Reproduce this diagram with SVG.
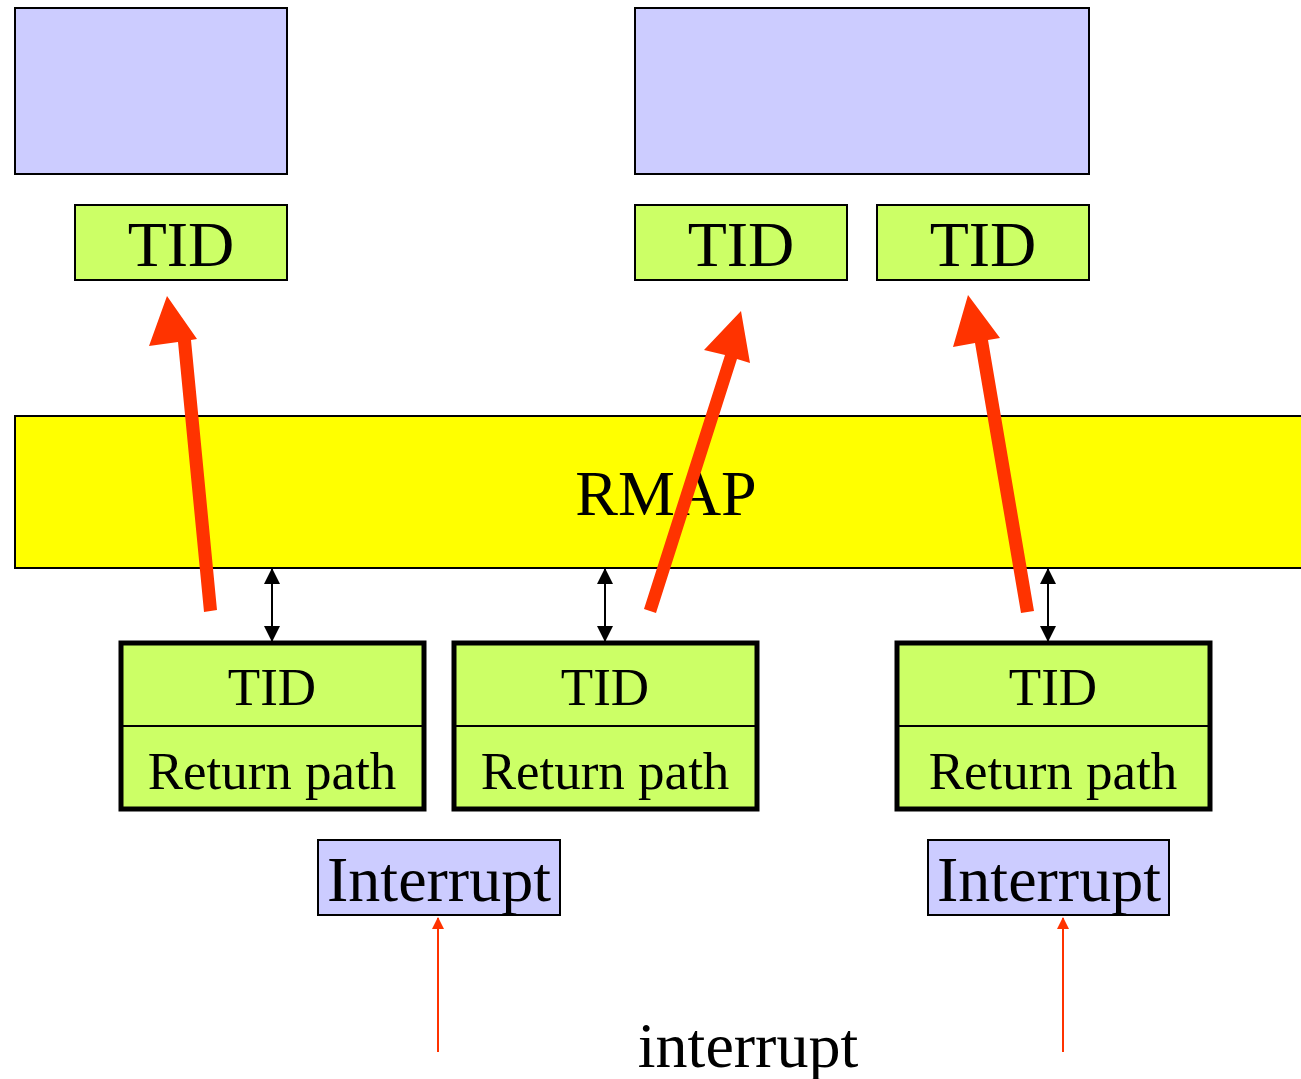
<svg xmlns="http://www.w3.org/2000/svg" width="1301" height="1079" viewBox="0 0 1301 1079">
<defs>
<style>
.blue{fill:#CCCCFF;stroke:#000;stroke-width:2}
.green{fill:#CCFF66;stroke:#000;stroke-width:2}
.rp{fill:#CCFF66;stroke:#000;stroke-width:5}
.rmap{fill:#FFFF00;stroke:#000;stroke-width:2}
text{font-family:"Liberation Serif","Times New Roman",serif;fill:#000;text-anchor:middle}
.big{font-size:64px}
.mid{font-size:53px}
.thick{fill:#FF3300}
.thin{stroke:#FF3300;stroke-width:2;fill:none}
.dbl{stroke:#000;stroke-width:2;fill:none;marker-start:url(#ab);marker-end:url(#ab)}
</style>
<marker id="ab" markerWidth="16" markerHeight="16" refX="15" refY="8" orient="auto-start-reverse" markerUnits="userSpaceOnUse">
<path d="M0,0 L16,8 L0,16 Z" fill="#000"/>
</marker>
<marker id="ar" markerWidth="12" markerHeight="12" refX="11" refY="6" orient="auto" markerUnits="userSpaceOnUse">
<path d="M0,0 L12,6 L0,12 Z" fill="#FF3300"/>
</marker>
</defs>
<g id="top-left"><rect class="blue" x="15" y="8" width="272" height="166"/></g>
<g id="top-right"><rect class="blue" x="635" y="8" width="454" height="166"/></g>
<g id="tid1"><rect class="green" x="75" y="205" width="212" height="75"/><text class="big" x="181" y="266">TID</text></g>
<g id="tid2"><rect class="green" x="635" y="205" width="212" height="75"/><text class="big" x="741" y="266">TID</text></g>
<g id="tid3"><rect class="green" x="877" y="205" width="212" height="75"/><text class="big" x="983" y="266">TID</text></g>
<g id="rmap"><rect class="rmap" x="15" y="416" width="1300" height="152"/><text class="big" x="666" y="515">RMAP</text></g>
<g id="rp1"><rect class="rp" x="121" y="643" width="303" height="166"/><line x1="121" y1="726" x2="424" y2="726" stroke="#000" stroke-width="2"/><text class="mid" x="272" y="705">TID</text><text class="mid" x="272" y="789">Return path</text></g>
<g id="rp2"><rect class="rp" x="454" y="643" width="303" height="166"/><line x1="454" y1="726" x2="757" y2="726" stroke="#000" stroke-width="2"/><text class="mid" x="605" y="705">TID</text><text class="mid" x="605" y="789">Return path</text></g>
<g id="rp3"><rect class="rp" x="897" y="643" width="313" height="166"/><line x1="897" y1="726" x2="1210" y2="726" stroke="#000" stroke-width="2"/><text class="mid" x="1053" y="705">TID</text><text class="mid" x="1053" y="789">Return path</text></g>
<g id="int1"><rect class="blue" x="318" y="840" width="242" height="75"/><text class="big" x="439" y="901">Interrupt</text></g>
<g id="int2"><rect class="blue" x="928" y="840" width="241" height="75"/><text class="big" x="1049" y="901">Interrupt</text></g>
<g id="label"><text class="big" x="748" y="1067">interrupt</text></g>
<g id="connectors">
<line class="dbl" x1="272" y1="569" x2="272" y2="641"/>
<line class="dbl" x1="605" y1="569" x2="605" y2="641"/>
<line class="dbl" x1="1048" y1="569" x2="1048" y2="641"/>
<line class="thin" x1="438" y1="1052" x2="438" y2="918" marker-end="url(#ar)"/>
<line class="thin" x1="1063" y1="1052" x2="1063" y2="918" marker-end="url(#ar)"/>
<path class="thick" d="M167,296 L197,339 L191,340 L217,610 L204,612 L178,342 L149,346 Z"/>
<path class="thick" d="M741,311 L750,363 L737,359 L656,613 L644,609 L725,355 L704,350 Z"/>
<path class="thick" d="M968,295 L1000,338 L988,340 L1034,611 L1021,613 L975,343 L953,347 Z"/>
</g>
</svg>
